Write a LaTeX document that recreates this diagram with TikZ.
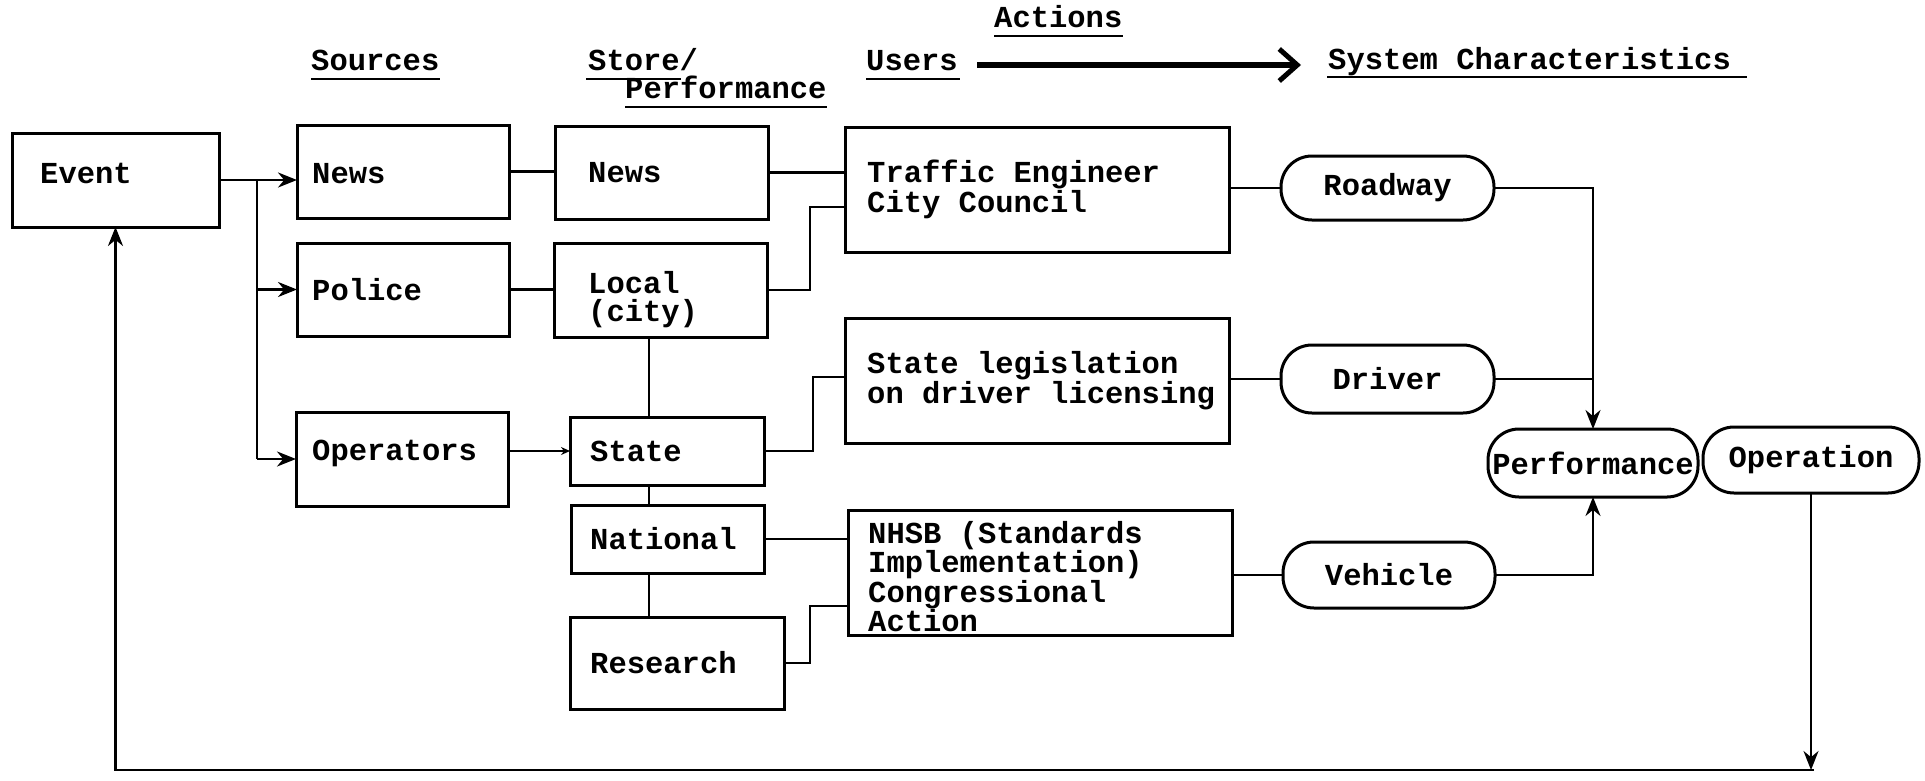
\documentclass[tikz,border=0pt]{standalone}
\usepackage{fontspec}
\setmainfont{Liberation Mono}
\usetikzlibrary{arrows.meta}
\begin{document}
\begin{tikzpicture}[x=1pt,y=-1pt,
  every node/.style={font=\bfseries\fontsize{30.5}{28}\selectfont},
  box/.style={draw, line width=3pt, anchor=north west, inner sep=0pt, outer sep=0pt},
  rbox/.style={box, rounded corners=31pt},
  txt/.style={anchor=west, inner sep=0pt, align=left},
  hd/.style={anchor=base west, inner sep=0pt},
  ul/.style={line width=2.4pt},
  ln/.style={line width=2.4pt},
  arr/.style={ln, -{Stealth[length=19pt,width=15pt]}},
  sarr/.style={ln, -{Stealth[length=9pt,width=8pt]}},
  bigarr/.style={line width=5.5pt, -{Straight Barb[length=18pt,width=32pt,line width=5pt]}}
]
\useasboundingbox (0,0) rectangle (1925,780);

% headers
\node[hd] (act) at (994,27) {Actions};
\node[hd] (src) at (311,70) {Sources};
\node[hd] (sto) at (588,70) {Store/};
\node[hd] (perf) at (625,98) {Performance};
\node[hd] (usr) at (866,70) {Users};
\node[hd] (sys) at (1328,69) {System Characteristics};
\draw[ul] ([yshift=-9pt]act.base west) -- ([yshift=-9pt]act.base east);
\draw[ul] ([yshift=-9pt]src.base west) -- ([yshift=-9pt]src.base east);
\draw[ul] ([xshift=-2pt,yshift=-9pt]sto.base west) -- ++(95,0);
\draw[ul] ([yshift=-9pt]perf.base west) -- ([yshift=-9pt]perf.base east);
\draw[ul] ([yshift=-9pt]usr.base west) -- ([xshift=2pt,yshift=-9pt]usr.base east);
\draw[ul] ([xshift=-1pt,yshift=-8pt]sys.base west) -- ([xshift=16pt,yshift=-8pt]sys.base east);
\coordinate (a1) at (977,65);
\coordinate (a2) at (1301,65);
\draw[bigarr] (a1) -- (a2);

% boxes
\node[box, minimum width=207pt, minimum height=94pt] (ev) at (12,133) {};
\node[box, minimum width=212pt, minimum height=93pt] (sn) at (297,125) {};
\node[box, minimum width=212pt, minimum height=93pt] (pol) at (297,243) {};
\node[box, minimum width=212pt, minimum height=94pt] (op) at (296,412) {};
\node[box, minimum width=213pt, minimum height=93pt] (stn) at (555,126) {};
\node[box, minimum width=213pt, minimum height=94pt] (loc) at (554,243) {};
\node[box, minimum width=194pt, minimum height=68pt] (st) at (570,417) {};
\node[box, minimum width=193pt, minimum height=68pt] (nat) at (571,505) {};
\node[box, minimum width=214pt, minimum height=92pt] (res) at (570,617) {};
\node[box, minimum width=384pt, minimum height=125pt] (trf) at (845,127) {};
\node[box, minimum width=384pt, minimum height=125pt] (sl) at (845,318) {};
\node[box, minimum width=384pt, minimum height=125pt] (nh) at (848,510) {};

% box texts
\node[txt, yshift=7pt] (evt) at ([xshift=28pt]ev.west) {Event};
\node[txt, yshift=-2pt] (snt) at ([xshift=15pt]sn.west) {News};
\node[txt] (polt) at ([xshift=15pt]pol.west) {Police};
\node[txt, yshift=6pt] (opt) at ([xshift=16pt]op.west) {Operators};
\node[txt] (stnt) at ([xshift=33pt]stn.west) {News};
\node[txt, yshift=-10pt] (loct) at ([xshift=34pt]loc.west) {Local\\(city)};
\node[txt] (stt) at ([xshift=20pt]st.west) {State};
\node[txt] (natt) at ([xshift=19pt]nat.west) {National};
\node[txt] (rest) at ([xshift=20pt]res.west) {Research};
\node[txt] (trft) at ([xshift=22pt]trf.west) {Traffic Engineer\\City Council};
\node[txt] (slt) at ([xshift=22pt]sl.west) {State legislation\\on driver licensing};
\node[txt, yshift=-4pt] (nht) at ([xshift=20pt]nh.west) {NHSB (Standards\\Implementation)\\Congressional\\Action};

% rounded nodes
\node[rbox, minimum width=213pt, minimum height=64pt] (rd) at (1281,156) {Roadway};
\node[rbox, minimum width=213pt, minimum height=68pt] (dr) at (1281,345) {Driver};
\node[rbox, minimum width=212pt, minimum height=66pt] (vh) at (1283,542) {Vehicle};
\node[rbox, minimum width=210pt, minimum height=68pt] (pf) at (1488,429) {Performance};
\node[rbox, minimum width=216pt, minimum height=66pt] (opn) at (1703,427) {Operation};

% connectors
\draw[arr] (ev.east) -- (ev.east -| sn.west);
\coordinate (tk) at (257,178);
\draw[ln] (tk |- ev.east) -- (tk |- op.west);
\draw[arr] (tk |- pol.west) -- (pol.west);
\draw[arr] (tk |- op.west) -- (op.west);
\draw[ln] (sn.east) -- (sn.east -| stn.west);
\draw[ln] (pol.east) -- (pol.east -| loc.west);
\draw[sarr] (st.west -| op.east) -- (st.west);
\coordinate (vx) at (649,0);
\draw[ln] (vx |- loc.south) -- (vx |- st.north);
\draw[ln] (vx |- st.south) -- (vx |- nat.north);
\draw[ln] (vx |- nat.south) -- (vx |- res.north);
\draw[ln] (stn.east) -- (stn.east -| trf.west);
\coordinate (k1) at (810,207);
\draw[ln] (loc.east) -| (k1) -- (k1 -| trf.west);
\coordinate (k2) at (813,377);
\draw[ln] (st.east) -| (k2) -- (k2 -| sl.west);
\draw[ln] (nat.east) -- (nat.east -| nh.west);
\coordinate (k3) at (810,606);
\draw[ln] (res.east) -| (k3) -- (k3 -| nh.west);
\draw[ln] (rd.west -| trf.east) -- (rd.west);
\draw[ln] (dr.west -| sl.east) -- (dr.west);
\draw[ln] (vh.west -| nh.east) -- (vh.west);
\draw[arr] (rd.east) -| (pf.north);
\draw[ln] (dr.east) -- (dr.east -| pf.north);
\draw[arr] (vh.east) -| (pf.south);
\coordinate (fb) at (1814,770);
\draw[arr] (opn.south) -- (opn.south |- fb);
\draw[arr] (fb) -| (ev.south);
\end{tikzpicture}
\end{document}
